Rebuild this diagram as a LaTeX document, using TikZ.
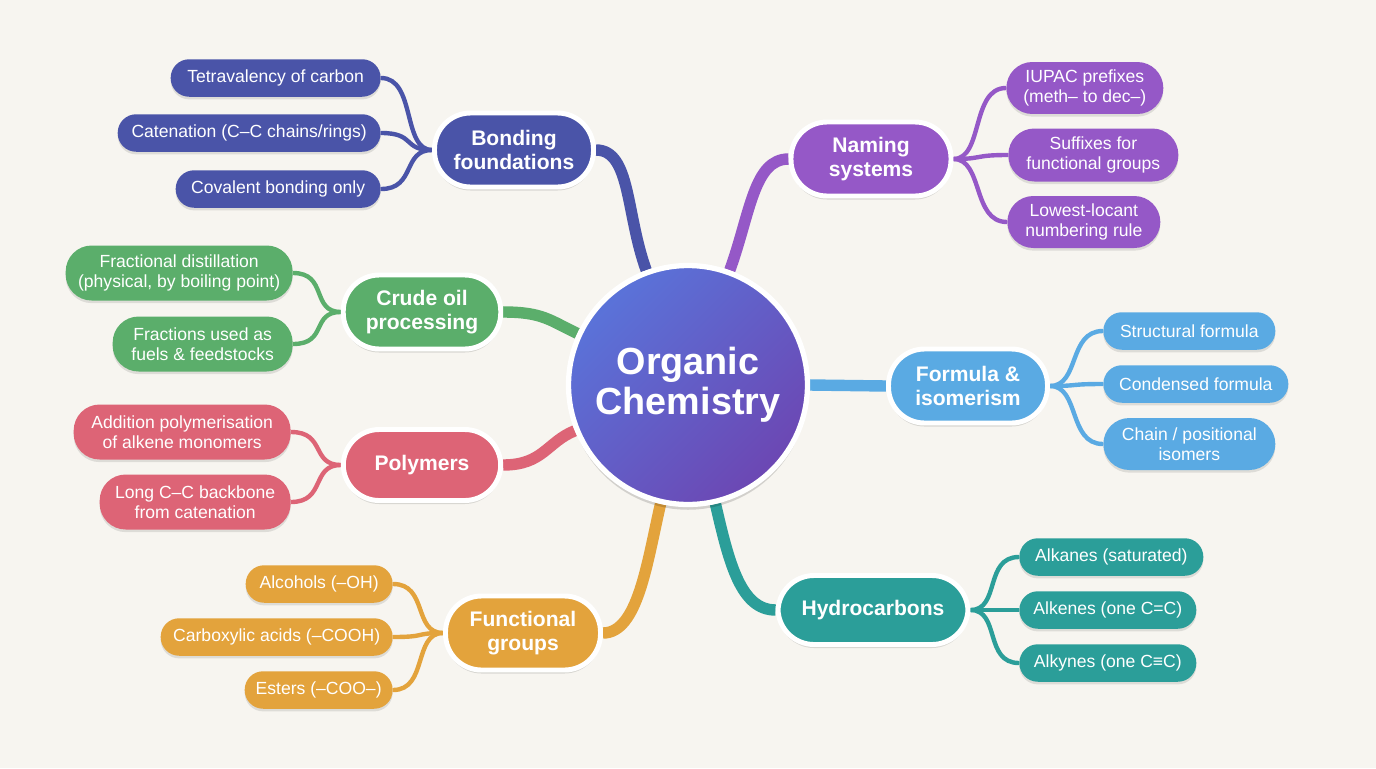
\documentclass[tikz,border=0pt]{standalone}
\usepackage{fontspec}
\setmainfont{Liberation Sans}
\usetikzlibrary{backgrounds,shadows}

\definecolor{bgpaper}{HTML}{F7F5F0}
\definecolor{cbond}{HTML}{4A54A8}
\definecolor{cname}{HTML}{9558C7}
\definecolor{ccrude}{HTML}{5BAE6B}
\definecolor{cform}{HTML}{5AAAE3}
\definecolor{cpoly}{HTML}{DD6476}
\definecolor{cfunc}{HTML}{E3A33C}
\definecolor{chyd}{HTML}{2B9E99}
\definecolor{hubtop}{HTML}{5A73D9}
\definecolor{hubbot}{HTML}{6C47B3}

\begin{document}
\begin{tikzpicture}[x=0.02cm,y=0.02cm,
  hub/.style={circle,draw=white,line width=3pt,minimum size=4.78cm,
    top color=hubtop,bottom color=hubbot,shading angle=45,text=white,
    font=\bfseries\fontsize{21.5}{23}\selectfont,align=center,
    drop shadow={shadow xshift=0pt,shadow yshift=-3pt,opacity=0.15,fill=black}},
  branch/.style={rounded corners=0.72cm,draw=white,line width=2.8pt,fill=#1,
    text=white,font=\bfseries\fontsize{12}{13.5}\selectfont,align=center,
    minimum height=1.48cm,inner sep=2pt,
    drop shadow={shadow xshift=0pt,shadow yshift=-2pt,opacity=0.12,fill=black}},
  leaf/.style={rounded corners=0.37cm,fill=#1,text=white,
    font=\fontsize{10}{11.5}\selectfont,align=center,minimum height=0.75cm,
    inner sep=2pt,
    drop shadow={shadow xshift=0pt,shadow yshift=-1.5pt,opacity=0.1,fill=black}},
  tall/.style={minimum height=1.1cm,rounded corners=0.52cm},
  trunk/.style={draw=#1,line width=6.5pt},
  twig/.style={draw=#1,line width=2.5pt}
]
\useasboundingbox (0,0) rectangle (1376,-768);

% centre
\node[hub] (oc) at (688,-385) {Organic\\Chemistry};

% main branches
\node[branch=cbond,minimum width=3.18cm] (bf) at (514,-150) {Bonding\\foundations};
\node[branch=cname,minimum width=3.2cm] (ns) at (871,-159) {Naming\\systems};
\node[branch=ccrude,minimum width=3.15cm] (co) at (422,-312) {Crude oil\\processing};
\node[branch=cform,minimum width=3.18cm] (fi) at (968,-386) {Formula \&\\isomerism};
\node[branch=cpoly,minimum width=3.15cm,minimum height=1.42cm] (po) at (422,-465) {Polymers};
\node[branch=cfunc,minimum width=3.1cm] (fg) at (523,-633) {Functional\\groups};
\node[branch=chyd,minimum width=3.8cm,minimum height=1.38cm] (hc) at (873,-610) {Hydrocarbons};

% bonding
\node[leaf=cbond,minimum width=4.2cm,anchor=east] (tv) at (381,-78) {Tetravalency of carbon};
\node[leaf=cbond,minimum width=5.26cm,anchor=east] (ct) at (381,-133) {Catenation (C–C chains/rings)};
\node[leaf=cbond,minimum width=4.1cm,anchor=east] (cv) at (381,-189) {Covalent bonding only};
% crude oil
\node[leaf=ccrude,tall,minimum width=4.54cm,anchor=east] (fd) at (293,-273) {Fractional distillation\\(physical, by boiling point)};
\node[leaf=ccrude,tall,minimum width=3.6cm,anchor=east] (fu) at (293,-344) {Fractions used as\\fuels \& feedstocks};
% polymers
\node[leaf=cpoly,tall,minimum width=4.34cm,anchor=east] (ap) at (291,-432) {Addition polymerisation\\of alkene monomers};
\node[leaf=cpoly,tall,minimum width=3.82cm,anchor=east] (lb) at (291,-502) {Long C–C backbone\\from catenation};
% functional groups
\node[leaf=cfunc,minimum width=2.94cm,anchor=east] (al) at (393,-584) {Alcohols (–OH)};
\node[leaf=cfunc,minimum width=4.64cm,anchor=east] (ca) at (393,-637) {Carboxylic acids (–COOH)};
\node[leaf=cfunc,minimum width=2.96cm,anchor=east] (es) at (393,-690) {Esters (–COO–)};
% naming
\node[leaf=cname,tall,minimum height=1.04cm,minimum width=3.14cm,anchor=west] (ip) at (1006,-88) {IUPAC prefixes\\(meth– to dec–)};
\node[leaf=cname,tall,minimum height=1.06cm,minimum width=3.4cm,anchor=west] (sf) at (1008,-155) {Suffixes for\\functional groups};
\node[leaf=cname,tall,minimum height=1.04cm,minimum width=3.06cm,anchor=west] (ll) at (1007,-222) {Lowest-locant\\numbering rule};
% formula
\node[leaf=cform,minimum width=3.44cm,anchor=west] (sfm) at (1103,-331) {Structural formula};
\node[leaf=cform,minimum width=3.7cm,anchor=west] (cfm) at (1103,-384) {Condensed formula};
\node[leaf=cform,tall,minimum height=1.04cm,minimum width=3.44cm,anchor=west] (iso) at (1103,-444) {Chain / positional\\isomers};
% hydrocarbons
\node[leaf=chyd,minimum width=3.68cm,anchor=west] (ak) at (1019,-557) {Alkanes (saturated)};
\node[leaf=chyd,minimum width=3.54cm,anchor=west] (ae) at (1019,-610) {Alkenes (one C=C)};
\node[leaf=chyd,minimum width=3.54cm,anchor=west] (ay) at (1019,-663) {Alkynes (one C≡C)};

\begin{pgfonlayer}{background}
\fill[bgpaper] (0,0) rectangle (1376,-768);
% trunks
\draw[trunk=cbond] (bf.east) .. controls +(35,0) and +(110:60) .. (oc.110);
\draw[trunk=cname] (ns.west) .. controls +(-35,0) and +(70:60) .. (oc.70);
\draw[trunk=ccrude] (co.east) .. controls +(40,0) and +(155:30) .. (oc.155);
\draw[trunk=cform] (fi.west) -- (oc.east);
\draw[trunk=cpoly] (po.east) .. controls +(40,0) and +(202:30) .. (oc.202);
\draw[trunk=cfunc] (fg.east) .. controls +(35,0) and +(257:60) .. (oc.257);
\draw[trunk=chyd] (hc.west) .. controls +(-35,0) and +(283:60) .. (oc.283);
% twigs
\foreach \l in {tv,ct,cv}
  \draw[twig=cbond] (bf.west) .. controls +(-30,0) and +(35,0) .. (\l.east);
\foreach \l in {fd,fu}
  \draw[twig=ccrude] (co.west) .. controls +(-30,0) and +(35,0) .. (\l.east);
\foreach \l in {ap,lb}
  \draw[twig=cpoly] (po.west) .. controls +(-30,0) and +(35,0) .. (\l.east);
\foreach \l in {al,ca,es}
  \draw[twig=cfunc] (fg.west) .. controls +(-30,0) and +(35,0) .. (\l.east);
\foreach \l in {ip,sf,ll}
  \draw[twig=cname] (ns.east) .. controls +(30,0) and +(-35,0) .. (\l.west);
\foreach \l in {sfm,cfm,iso}
  \draw[twig=cform] (fi.east) .. controls +(30,0) and +(-35,0) .. (\l.west);
\foreach \l in {ak,ae,ay}
  \draw[twig=chyd] (hc.east) .. controls +(30,0) and +(-35,0) .. (\l.west);
\end{pgfonlayer}
\end{tikzpicture}
\end{document}
